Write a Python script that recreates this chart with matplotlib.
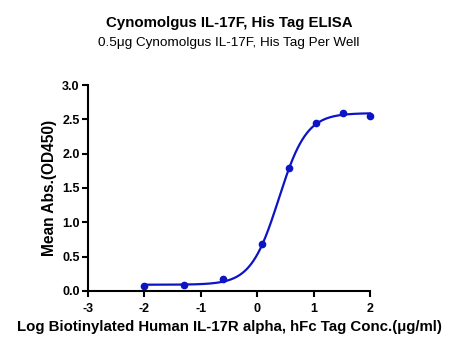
import numpy as np
import matplotlib
matplotlib.use("Agg")
import matplotlib.pyplot as plt

plt.rcParams['font.family'] = ['Liberation Sans', 'DejaVu Sans']

title = "Cynomolgus IL-17F, His Tag ELISA"
subtitle = "0.5μg Cynomolgus IL-17F, His Tag Per Well"
xlabel = "Log Biotinylated Human IL-17R alpha, hFc Tag Conc.(μg/ml)"
ylabel = "Mean Abs.(OD450)"

log_conc = [-2.0, -1.301, -0.602, 0.09, 0.568, 1.045, 1.523, 2.0]
od450 = [0.069, 0.083, 0.166, 0.677, 1.785, 2.45, 2.596, 2.548]

xticks = [-3, -2, -1, 0, 1, 2]
yticks = [0.0, 0.5, 1.0, 1.5, 2.0, 2.5, 3.0]

color = '#0c14c4'

# 4PL fit via Gauss-Newton (numpy only)
x = np.array(log_conc)
y = np.array(od450)

def f(p, x):
    b, t, c, h = p
    return b + (t - b) / (1 + 10 ** ((c - x) * h))

p = np.array([0.07, 2.58, 0.35, 1.5])
for _ in range(200):
    r = y - f(p, x)
    J = np.zeros((len(x), 4))
    eps = 1e-6
    for i in range(4):
        dp = np.zeros(4); dp[i] = eps
        J[:, i] = (f(p + dp, x) - f(p - dp, x)) / (2 * eps)
    step, *_ = np.linalg.lstsq(J, r, rcond=None)
    p = p + 0.5 * step

xc = np.linspace(min(log_conc), max(log_conc), 400)
yc = f(p, xc)

fig = plt.figure(figsize=(4.58, 3.5), dpi=100)
ax = fig.add_axes([0.192, 0.169, 0.616, 0.588])
ax.plot(xc, yc, color=color, lw=1.6, clip_on=False)
ax.plot(log_conc, od450, 'o', color=color, ms=4.5, clip_on=False)

ax.set_xlim(-3, 2)
ax.set_ylim(0, 3)
ax.set_xticks(xticks)
ax.set_yticks(yticks)
ax.set_xticklabels([str(v) for v in xticks], fontweight='bold', fontsize=9)
ax.set_yticklabels([f"{v:.1f}" for v in yticks], fontweight='bold', fontsize=9)
for s in ['top', 'right']:
    ax.spines[s].set_visible(False)
for s in ['left', 'bottom']:
    ax.spines[s].set_linewidth(1.5)
ax.tick_params(axis='x', width=1.5, length=4, direction='out', pad=5)
ax.tick_params(axis='y', width=1.5, length=4, direction='out', pad=2)

ax.set_xlabel(xlabel, fontweight='bold', fontsize=10.8, labelpad=3)
ax.set_ylabel(ylabel, fontweight='bold', fontsize=11.2, labelpad=4)

fig.text(0.5, 0.935, title, ha='center', va='center', fontweight='bold', fontsize=10.8)
fig.text(0.5, 0.877, subtitle, ha='center', va='center', fontsize=9.7)

fig.savefig('out.png', dpi=100)
